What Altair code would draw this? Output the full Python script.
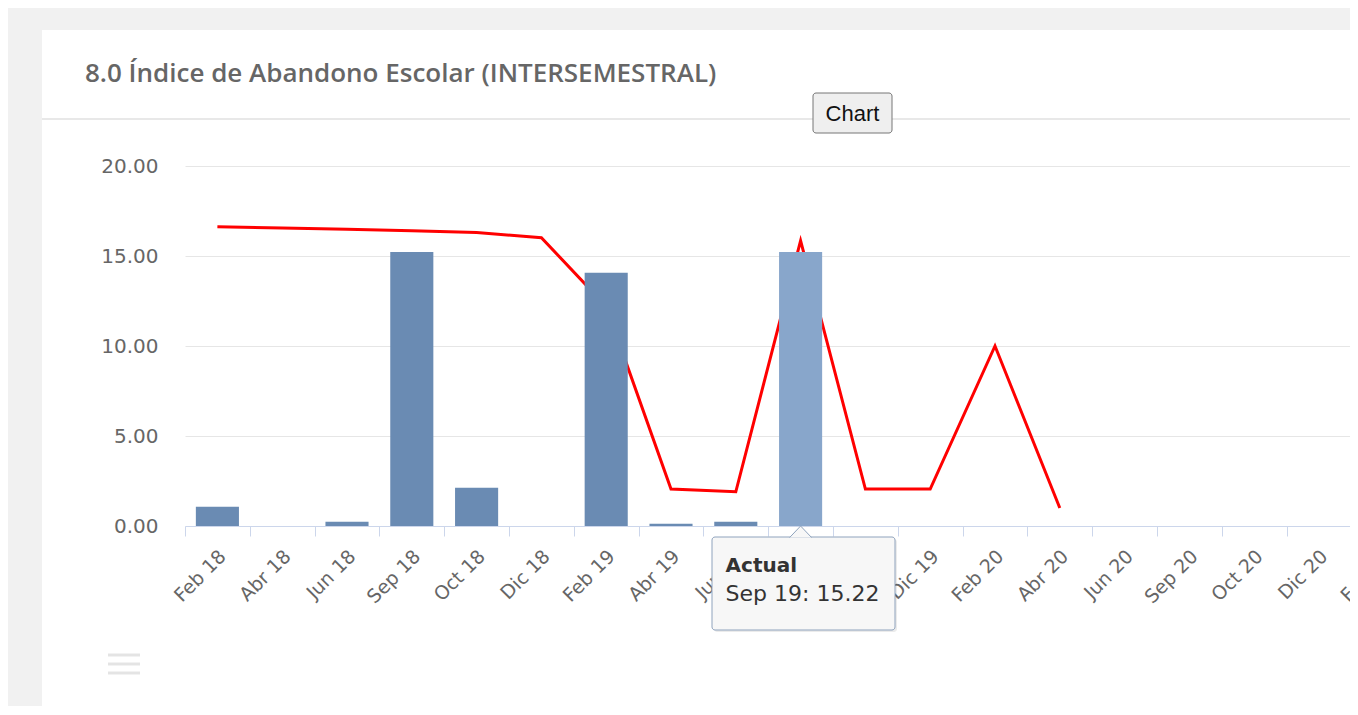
import altair as alt
import pandas as pd

# ---------------- data ----------------
categories = ["Feb 18", "Abr 18", "Jun 18", "Sep 18", "Oct 18", "Dic 18",
              "Feb 19", "Abr 19", "Jun 19", "Sep 19", "Oct 19", "Dic 19",
              "Feb 20", "Abr 20", "Jun 20", "Sep 20", "Oct 20", "Dic 20", "Feb 21"]
actual = [1.07, None, 0.24, 15.22, 2.13, None,
          14.07, 0.12, 0.24, 15.22, None, None,
          None, None, None, None, None, None, None]
meta = [16.63, 16.55, 16.48, 16.40, 16.30, 16.02,
        12.2, 2.05, 1.90, 15.85, 2.05, 2.05,
        10.0, 1.0, None, None, None, None, None]
y_ticks = [0, 5, 10, 15, 20]
title_text = "8.0 Índice de Abandono Escolar (INTERSEMESTRAL)"
button_text = "Chart"
series_name = "Actual"
hover_cat = "Sep 19"

df = pd.DataFrame({"cat": categories, "actual": actual, "meta": meta})
hover_val = actual[categories.index(hover_cat)]
tip_df = pd.DataFrame({"cat": [hover_cat, hover_cat],
                       "v": [0, 0],
                       "t": [series_name, f"{hover_cat}: {hover_val:.2f}"]})
one = pd.DataFrame({"k": [0]})

STEP = 64.8
W, H = 1165, 360
x_scale = alt.Scale(domain=categories, range=[0, STEP * len(categories)],
                    paddingInner=0, paddingOuter=0)
y_scale = alt.Scale(domain=[0, 20], nice=False)

x_axis = alt.Axis(title=None, labelAngle=-45, labelAlign="right", labelBaseline="middle",
                  labelFont="DejaVu Sans", labelFontSize=19, labelColor="#666666",
                  labelPadding=17, labelOffset=5, labelOverlap=False, labelFlush=False,
                  labelBound=False,
                  domainColor="#ccd6eb", tickColor="#ccd6eb", tickSize=10,
                  tickBand="extent", grid=False)
y_axis = alt.Axis(title=None, values=y_ticks, format=".2f", domain=False, ticks=False,
                  labelFont="DejaVu Sans", labelFontSize=20, labelColor="#666666",
                  labelPadding=27, grid=True, gridColor="#e6e6e6", gridWidth=1)

X = alt.X("cat:N", scale=x_scale, sort=categories, axis=x_axis)

# ---------------- page decoration ----------------
top_strip = alt.Chart(one).mark_rect(color="#f1f1f1").encode(
    x=alt.value(-177), x2=alt.value(W + 10), y=alt.value(-158), y2=alt.value(-136))
left_strip = alt.Chart(one).mark_rect(color="#f1f1f1").encode(
    x=alt.value(-177), x2=alt.value(-143), y=alt.value(-158), y2=alt.value(H + 200))
separator = alt.Chart(one).mark_rule(color="#e8e8e8", strokeWidth=2).encode(
    x=alt.value(-143), x2=alt.value(W + 10), y=alt.value(-47))
title = alt.Chart(pd.DataFrame({"t": [title_text]})).mark_text(
    align="left", baseline="middle", font="Open Sans", fontSize=26, fontWeight=600,
    color="#666666").encode(x=alt.value(-100), y=alt.value(-92), text="t:N")
button_box = alt.Chart(one).mark_rect(fill="#efefef", stroke="#767676", strokeWidth=1,
                                       cornerRadius=3).encode(
    x=alt.value(628), x2=alt.value(707), y=alt.value(-73), y2=alt.value(-33))
button_label = alt.Chart(pd.DataFrame({"t": [button_text]})).mark_text(
    align="center", baseline="middle", font="Liberation Sans", fontSize=22,
    color="#111111").encode(x=alt.value(667.5), y=alt.value(-52), text="t:N")

# ---------------- data marks ----------------
line = alt.Chart(df).mark_line(color="#ff0000", strokeWidth=3).encode(
    x=X, y=alt.Y("meta:Q", scale=y_scale, axis=y_axis))
bars = alt.Chart(df).mark_bar(width=alt.RelativeBandSize(0.665)).encode(
    x=X, y=alt.Y("actual:Q", scale=y_scale, axis=y_axis),
    color=alt.condition(alt.datum.cat == hover_cat, alt.value("#88a6cb"), alt.value("#6a8bb3")))

# ---------------- tooltip ----------------
tip_shadow = alt.Chart(one).mark_rect(fill="#000000", opacity=0.08, cornerRadius=3).encode(
    x=alt.value(529), x2=alt.value(712), y=alt.value(373), y2=alt.value(466))
tip_box = alt.Chart(one).mark_rect(fill="#f7f7f7", stroke="#8fa3bd", strokeWidth=1,
                                   cornerRadius=3).encode(
    x=alt.value(527), x2=alt.value(710), y=alt.value(371), y2=alt.value(464))
tip_arrow = alt.Chart(tip_df.iloc[:1]).mark_point(
    shape="M-1,1.05L0,0L1,1.05", size=484, fill="#f7f7f7", stroke="#8fa3bd",
    strokeWidth=1, opacity=1, fillOpacity=1, strokeOpacity=1).encode(
    x=X, y=alt.Y("v:Q", scale=y_scale, axis=y_axis))
tip_title = alt.Chart(tip_df.iloc[:1]).mark_text(
    align="left", baseline="middle", font="DejaVu Sans", fontSize=20, fontWeight="bold",
    color="#333333", dx=-75, dy=40).encode(
    x=X, y=alt.Y("v:Q", scale=y_scale, axis=y_axis), text="t:N")
tip_value = alt.Chart(tip_df.iloc[1:]).mark_text(
    align="left", baseline="middle", font="DejaVu Sans", fontSize=22,
    color="#333333", dx=-75, dy=68).encode(
    x=X, y=alt.Y("v:Q", scale=y_scale, axis=y_axis), text="t:N")

# ---------------- hamburger icon ----------------
burger = [alt.Chart(one).mark_rule(color="#e4e4e4", strokeWidth=3).encode(
    x=alt.value(-77), x2=alt.value(-45), y=alt.value(yy)) for yy in (489, 498, 507)]

chart = alt.layer(
    top_strip, left_strip, separator, title, button_box, button_label,
    line, bars, tip_shadow, tip_box, tip_arrow, tip_title, tip_value, *burger
).properties(
    width=W, height=H,
    autosize=alt.AutoSizeParams(type="none"),
    padding={"left": 177, "top": 158, "right": 0, "bottom": 180},
    background="white",
).configure_view(stroke=None)

chart.save("out.html", embed_options={"renderer": "svg", "actions": False})
